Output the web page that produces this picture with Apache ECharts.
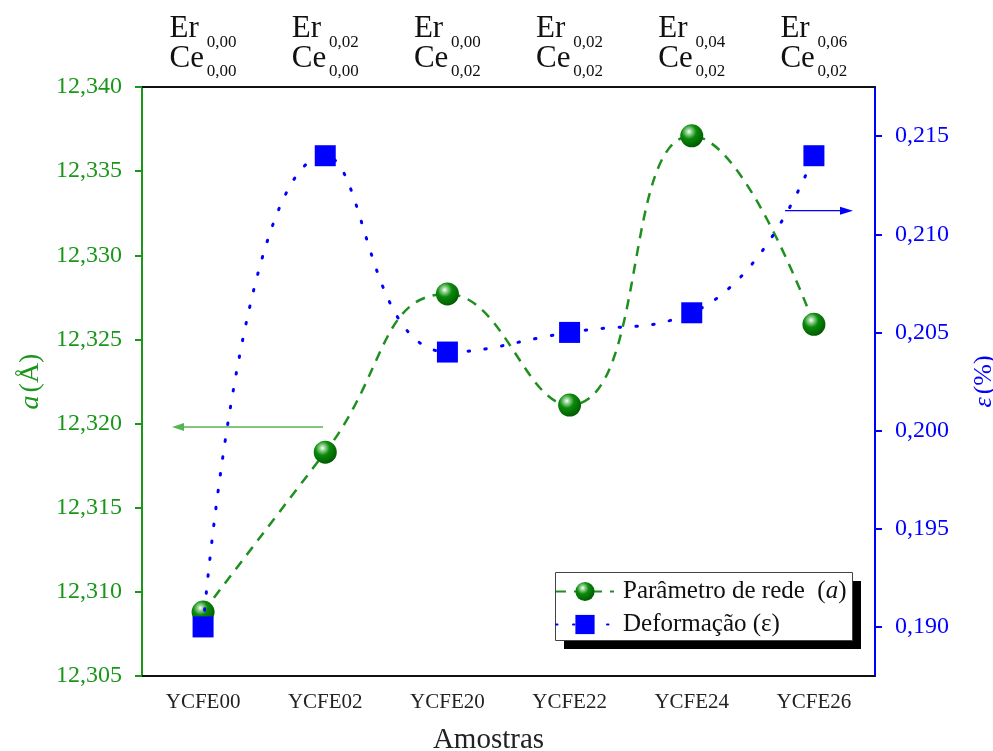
<!DOCTYPE html>
<html>
<head>
<meta charset="utf-8">
<script src="https://cdn.jsdelivr.net/npm/echarts@6/dist/echarts.min.js"></script>
<style>
html,body{margin:0;padding:0;background:#fff;overflow:hidden;}
#chart{width:993px;height:751px;}
</style>
</head>
<body>
<div id="chart"></div>
<script>
// ---- data ----
const categories = ['YCFE00', 'YCFE02', 'YCFE20', 'YCFE22', 'YCFE24', 'YCFE26'];
const erSuper = ['0,00', '0,02', '0,00', '0,02', '0,04', '0,06'];
const ceSub = ['0,00', '0,00', '0,02', '0,02', '0,02', '0,02'];
const latticeA = [12.3088, 12.3183, 12.3277, 12.3211, 12.3371, 12.3259];
const strain = [0.190, 0.214, 0.204, 0.205, 0.206, 0.214];
const leftTicks = [12.305, 12.310, 12.315, 12.320, 12.325, 12.330, 12.335, 12.340];
const rightTicks = [0.190, 0.195, 0.200, 0.205, 0.210, 0.215];
const leftArrowValue = 12.3198;
const rightArrowValue = 0.2112;

const GREEN = '#1a961a';
const GREEN_LINE = '#1f8f1f';
const BLUE = '#0000ff';
const SERIF = '"Liberation Serif", "Times New Roman", serif';

const chart = echarts.init(document.getElementById('chart'), null, {renderer: 'canvas'});

function fmt(v) { return v.toFixed(3).replace('.', ','); }

const legendBox = [
  {type: 'rect', left: 564, top: 581, shape: {width: 297, height: 68}, style: {fill: '#000'}, z: 0, silent: true},
  {type: 'rect', left: 555, top: 572, shape: {width: 297, height: 68}, style: {fill: '#fff', stroke: '#444', lineWidth: 1}, z: 0, silent: true}
];

const option = {
  backgroundColor: '#fff',
  animation: false,
  textStyle: {fontFamily: SERIF},
  grid: {left: 142, right: 118, top: 87, bottom: 75, containLabel: false, outerBoundsMode: 'none'},
  legend: {
    orient: 'vertical',
    left: 555,
    top: 576,
    padding: [3, 8, 3, 0],
    itemGap: 8,
    itemWidth: 58,
    itemHeight: 24,
    data: ['Parâmetro de rede', 'Deformação (ε)'],
    formatter: function (name) {
      if (name === 'Parâmetro de rede') return '{s| }{n|Parâmetro de rede  (}{i|a}{n|)}';
      return '{s| }{n|' + name + '}';
    },
    textStyle: {
      fontFamily: SERIF, fontSize: 25, color: '#111',
      rich: {
        s: {width: 4},
        n: {fontFamily: SERIF, fontSize: 25, color: '#111'},
        i: {fontFamily: SERIF, fontSize: 25, color: '#111', fontStyle: 'italic'}
      }
    }
  },
  xAxis: [
    {
      type: 'category',
      data: categories,
      position: 'bottom',
      boundaryGap: true,
      axisLine: {lineStyle: {color: '#111', width: 2}},
      axisTick: {alignWithLabel: true, inside: false, length: 6, lineStyle: {color: '#111', width: 2}},
      axisLabel: {fontFamily: SERIF, fontSize: 21, color: '#222', margin: 16},
      splitLine: {show: false},
      name: 'Amostras',
      nameLocation: 'middle',
      nameGap: 50,
      nameTextStyle: {fontFamily: SERIF, fontSize: 29, color: '#222', padding: [0, 40, 0, 0]}
    },
    {
      type: 'category',
      data: categories,
      position: 'top',
      boundaryGap: true,
      axisLine: {lineStyle: {color: '#111', width: 2}},
      axisTick: {alignWithLabel: true, inside: false, length: 6, lineStyle: {color: '#111', width: 2}},
      axisLabel: {
        margin: 11,
        formatter: function (value, index) {
          return '{er|Er}{sp| }\n{gap| }{sup|' + erSuper[index] + '}\n{ce|Ce}{sp| }\n{gap| }{sub|' + ceSub[index] + '}';
        },
        rich: {
          er: {fontFamily: SERIF, fontSize: 31, color: '#111', width: 37, align: 'left', lineHeight: 14},
          ce: {fontFamily: SERIF, fontSize: 31, color: '#111', width: 37, align: 'left', lineHeight: 18},
          sp: {width: 30, lineHeight: 1},
          gap: {width: 37, lineHeight: 1},
          sup: {fontFamily: SERIF, fontSize: 17, color: '#111', width: 30, align: 'left', lineHeight: 14},
          sub: {fontFamily: SERIF, fontSize: 17, color: '#111', width: 30, align: 'left', lineHeight: 8}
        }
      },
      splitLine: {show: false}
    }
  ],
  yAxis: [
    {
      type: 'value',
      position: 'left',
      min: 12.305,
      max: 12.340,
      splitLine: {show: false},
      axisLine: {show: true, onZero: false, lineStyle: {color: GREEN, width: 2}},
      axisTick: {show: true, inside: false, length: 7, customValues: leftTicks, lineStyle: {color: GREEN, width: 2}},
      axisLabel: {customValues: leftTicks, formatter: fmt, fontFamily: SERIF, fontSize: 24, color: GREEN, margin: 20},
      name: '{i|a} {n|(Å)}',
      nameLocation: 'middle',
      nameRotate: 90,
      nameGap: 97,
      nameTextStyle: {
        rich: {
          i: {fontFamily: SERIF, fontSize: 28, fontStyle: 'italic', color: GREEN},
          n: {fontFamily: SERIF, fontSize: 28, color: GREEN}
        }
      }
    },
    {
      type: 'value',
      position: 'right',
      min: 0.1875,
      max: 0.2175,
      splitLine: {show: false},
      axisLine: {show: true, onZero: false, lineStyle: {color: BLUE, width: 2}},
      axisTick: {show: true, inside: false, length: 7, customValues: rightTicks, lineStyle: {color: BLUE, width: 2}},
      axisLabel: {customValues: rightTicks, formatter: fmt, fontFamily: SERIF, fontSize: 24, color: BLUE, margin: 20},
      name: '{i|ε} {n|(%)}',
      nameLocation: 'middle',
      nameRotate: 90,
      nameGap: 96,
      nameTextStyle: {
        rich: {
          i: {fontFamily: SERIF, fontSize: 26, fontStyle: 'italic', color: BLUE},
          n: {fontFamily: SERIF, fontSize: 26, color: BLUE}
        }
      }
    }
  ],
  graphic: legendBox,
  series: [
    {
      name: 'Parâmetro de rede',
      type: 'line',
      xAxisIndex: 0,
      yAxisIndex: 0,
      data: latticeA,
      smooth: 0.5,
      symbol: 'circle',
      symbolSize: 23,
      itemStyle: {
        color: new echarts.graphic.RadialGradient(0.38, 0.32, 0.7, [
          {offset: 0, color: '#ffffff'},
          {offset: 0.18, color: '#8fd08f'},
          {offset: 0.45, color: '#0b8a0b'},
          {offset: 1, color: '#005a00'}
        ])
      },
      lineStyle: {color: GREEN_LINE, width: 2.5, type: [10, 8]},
      z: 2
    },
    {
      name: 'Deformação (ε)',
      type: 'line',
      xAxisIndex: 0,
      yAxisIndex: 1,
      data: strain,
      smooth: 0.5,
      symbol: 'rect',
      symbolSize: 21,
      itemStyle: {color: BLUE},
      lineStyle: {color: BLUE, width: 3, type: [1.5, 15.5], cap: 'round'},
      z: 3
    }
  ]
};

chart.setOption(option);

const yL = chart.convertToPixel({yAxisIndex: 0}, leftArrowValue);
const yR = chart.convertToPixel({yAxisIndex: 1}, rightArrowValue);
chart.setOption({
  graphic: legendBox.concat([
    {type: 'line', shape: {x1: 323, y1: yL, x2: 180, y2: yL}, style: {stroke: '#55b455', lineWidth: 1.5}, z: 10},
    {type: 'polygon', shape: {points: [[172, yL], [184, yL - 4], [184, yL + 4]]}, style: {fill: '#55b455'}, z: 10},
    {type: 'line', shape: {x1: 785, y1: yR, x2: 842, y2: yR}, style: {stroke: BLUE, lineWidth: 1.2}, z: 10},
    {type: 'polygon', shape: {points: [[853, yR], [840, yR - 4], [840, yR + 4]]}, style: {fill: BLUE}, z: 10}
  ])
}, {replaceMerge: ['graphic']});
</script>
</body>
</html>
